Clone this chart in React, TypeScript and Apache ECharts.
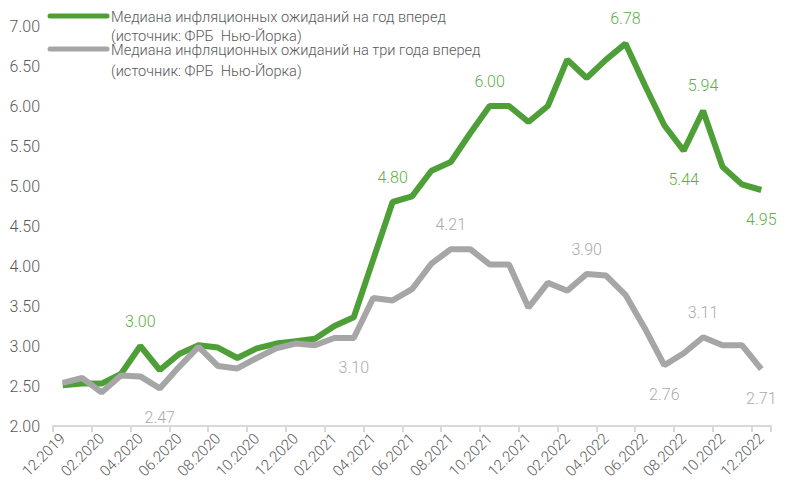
import React, { useEffect, useRef } from "react";
import * as echarts from "echarts";

const categories = [
  "12.2019", "01.2020", "02.2020", "03.2020", "04.2020", "05.2020", "06.2020", "07.2020",
  "08.2020", "09.2020", "10.2020", "11.2020", "12.2020", "01.2021", "02.2021", "03.2021",
  "04.2021", "05.2021", "06.2021", "07.2021", "08.2021", "09.2021", "10.2021", "11.2021",
  "12.2021", "01.2022", "02.2022", "03.2022", "04.2022", "05.2022", "06.2022", "07.2022",
  "08.2022", "09.2022", "10.2022", "11.2022", "12.2022",
];

const oneYear = [
  2.51, 2.53, 2.53, 2.65, 3.0, 2.7, 2.9, 3.01, 2.98, 2.85, 2.97, 3.03, 3.06, 3.09, 3.25, 3.36,
  4.08, 4.8, 4.87, 5.19, 5.3, 5.66, 6.0, 6.0, 5.8, 6.0, 6.58, 6.35, 6.58, 6.78, 6.26, 5.76,
  5.44, 5.94, 5.24, 5.02, 4.95,
];

const threeYear = [
  2.54, 2.6, 2.42, 2.63, 2.62, 2.47, 2.74, 2.99, 2.75, 2.72, 2.85, 2.97, 3.03, 3.01, 3.1, 3.1,
  3.6, 3.57, 3.71, 4.03, 4.21, 4.21, 4.02, 4.02, 3.48, 3.79, 3.69, 3.9, 3.88, 3.64, 3.22, 2.76,
  2.91, 3.11, 3.01, 3.01, 2.71,
];

const oneYearLabelsAbove = [4, 17, 22, 29, 33];
const oneYearLabelsBelow = [32, 36];
const threeYearLabelsAbove = [20, 27, 33];
const threeYearLabelsBelow = [5, 15, 31, 36];

const seriesNames = [
  "Медиана инфляционных ожиданий на год вперед\n(источник: ФРБ  Нью-Йорка)",
  "Медиана инфляционных ожиданий на три года вперед\n(источник: ФРБ  Нью-Йорка)",
];

const GREEN = "#4E9F37";
const GREEN_LABEL = "#5EAD48";
const GRAY = "#A6A6A6";
const GRAY_LABEL = "#ABABAB";
const FONT = "Roboto";

function buildData(values: number[], above: number[], below: number[], color: string) {
  return values.map((v, i) => {
    if (above.includes(i) || below.includes(i)) {
      const isAbove = above.includes(i);
      return {
        value: v,
        label: {
          show: true,
          position: isAbove ? "top" : "bottom",
          distance: isAbove ? 17 : 21,
          formatter: (p: any) => Number(p.value).toFixed(2),
          color,
          fontSize: 16,
          fontFamily: FONT,
          fontWeight: 300,
        },
      };
    }
    return { value: v };
  });
}

export default function App() {
  const ref = useRef<HTMLDivElement>(null);
  useEffect(() => {
    if (!ref.current) return;
    const chart = echarts.init(ref.current, undefined, { renderer: "svg" });
    chart.setOption({
      animation: false,
      backgroundColor: "#FFFFFF",
      grid: { left: 53, right: 20, top: 26, bottom: 60, containLabel: false },
      xAxis: {
        type: "category",
        data: categories,
        boundaryGap: true,
        axisLine: { lineStyle: { color: "#D9D9D9", width: 2 } },
        axisTick: { show: true, interval: 1, length: 6, lineStyle: { color: "#D9D9D9", width: 2 } },
        axisLabel: {
          interval: 1,
          rotate: 45,
          margin: 10,
          color: "#595959",
          fontSize: 15,
          fontFamily: FONT,
          fontWeight: 300,
        },
        splitLine: { show: false },
      },
      yAxis: {
        type: "value",
        min: 2,
        max: 7,
        interval: 0.5,
        axisLine: { show: false },
        axisTick: { show: false },
        splitLine: { show: false },
        axisLabel: {
          margin: 13,
          color: "#595959",
          fontSize: 16,
          fontFamily: FONT,
          fontWeight: 300,
          formatter: (v: number) => v.toFixed(2),
        },
      },
      graphic: [
        {
          type: "line",
          shape: { x1: 50, y1: 16, x2: 107, y2: 16 },
          style: { stroke: GREEN, lineWidth: 5, lineCap: "round" },
        },
        {
          type: "text",
          x: 111,
          y: 7,
          style: {
            text: seriesNames[0],
            fill: "#595959",
            fontSize: 14.6,
            fontFamily: FONT,
            fontWeight: 300,
            lineHeight: 19.5,
            verticalAlign: "top",
          },
        },
        {
          type: "line",
          shape: { x1: 50, y1: 49, x2: 107, y2: 49 },
          style: { stroke: GRAY, lineWidth: 5, lineCap: "round" },
        },
        {
          type: "text",
          x: 111,
          y: 40,
          style: {
            text: seriesNames[1],
            fill: "#595959",
            fontSize: 14.6,
            fontFamily: FONT,
            fontWeight: 300,
            lineHeight: 20.5,
            verticalAlign: "top",
          },
        },
      ],
      series: [
        {
          name: seriesNames[0],
          type: "line",
          data: buildData(oneYear, oneYearLabelsAbove, oneYearLabelsBelow, GREEN_LABEL),
          showSymbol: true,
          symbol: "circle",
          symbolSize: 0,
          lineStyle: { color: GREEN, width: 6 },
          itemStyle: { color: GREEN },
          z: 2,
        },
        {
          name: seriesNames[1],
          type: "line",
          data: buildData(threeYear, threeYearLabelsAbove, threeYearLabelsBelow, GRAY_LABEL),
          showSymbol: true,
          symbol: "circle",
          symbolSize: 0,
          lineStyle: { color: GRAY, width: 6 },
          itemStyle: { color: GRAY },
          z: 3,
        },
      ],
    });
    return () => chart.dispose();
  }, []);
  return (
    <div
      ref={ref}
      style={{ position: "fixed", left: 0, top: 0, width: 791, height: 486 }}
    />
  );
}
